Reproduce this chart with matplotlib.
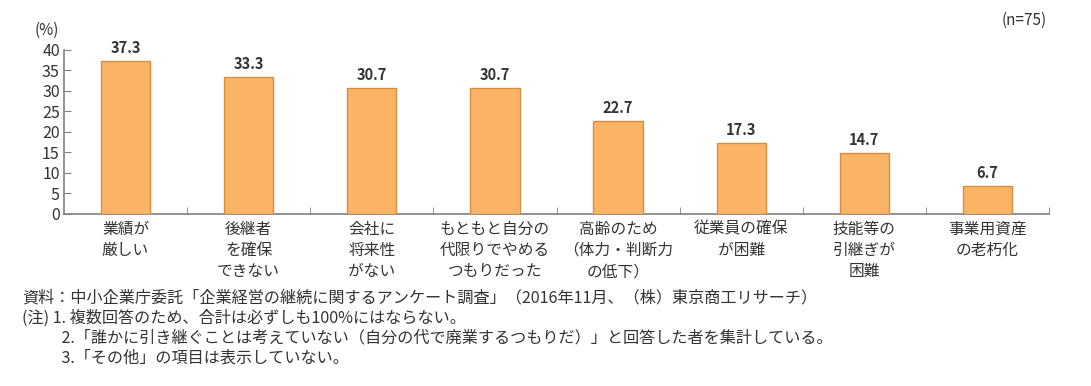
import matplotlib
matplotlib.use("Agg")
import matplotlib.pyplot as plt

plt.rcParams["font.family"] = ["Noto Sans CJK JP", "DejaVu Sans"]

categories = ["業績が\n厳しい", "後継者\nを確保\nできない", "会社に\n将来性\nがない",
              "もともと自分の\n代限りでやめる\nつもりだった", "高齢のため\n（体力・判断力\nの低下）",
              "従業員の確保\nが困難", "技能等の\n引継ぎが\n困難", "事業用資産\nの老朽化"]
values = [37.3, 33.3, 30.7, 30.7, 22.7, 17.3, 14.7, 6.7]
yticks = [0, 5, 10, 15, 20, 25, 30, 35, 40]
notes = ("資料：中小企業庁委託「企業経営の継続に関するアンケート調査」（2016年11月、（株）東京商工リサーチ）\n"
         "(注) 1. 複数回答のため、合計は必ずしも100%にはならない。\n"
         "\u3000\u3000  2.「誰かに引き継ぐことは考えていない（自分の代で廃業するつもりだ）」と回答した者を集計している。\n"
         "\u3000\u3000  3.「その他」の項目は表示していない。")

W, H = 1091, 386
fig = plt.figure(figsize=(W / 100, H / 100), dpi=100)
ax = fig.add_axes([64 / W, 1 - 213.7 / H, (1049 - 64) / W, (213.7 - 49.5) / H])

txt = "#333333"
axc = "#808080"
x = list(range(len(values)))
ax.bar(x, values, width=0.4, color="#FBB466", edgecolor="#D98E3E", linewidth=1.0, zorder=3)
for xi, v in zip(x, values):
    ax.text(xi, v + 1.2, f"{v:.1f}", ha="center", va="bottom", fontsize=10.5,
            fontweight="bold", color=txt)

ax.set_xlim(-0.5, len(values) - 0.5)
ax.set_ylim(0, 40)
ax.set_yticks(yticks)
ax.set_xticks(x)
ax.set_xticklabels(categories, fontsize=11.3, color=txt, linespacing=1.33, va="top")
ax.set_xticks([i + 0.5 for i in x], minor=True)
ax.tick_params(axis="x", which="major", length=0, pad=5)
ax.tick_params(axis="x", which="minor", length=5, direction="in", color=axc)
ax.tick_params(axis="y", length=5, direction="in", color=axc, labelsize=11.5,
               labelcolor=txt, pad=3)
for s in ("top", "right"):
    ax.spines[s].set_visible(False)
for s in ("left", "bottom"):
    ax.spines[s].set_color(axc)
    ax.spines[s].set_linewidth(1.2)

fig.text(35 / W, 1 - 30 / H, "(%)", fontsize=11, color=txt, va="center", ha="left")
fig.text(1047 / W, 1 - 20 / H, "(n=75)", fontsize=11, color=txt, va="center", ha="right")
fig.text(22 / W, 1 - 289 / H, notes, fontsize=11.6, color=txt, va="top", ha="left",
         linespacing=1.24)

fig.savefig("out.png", dpi=100)
